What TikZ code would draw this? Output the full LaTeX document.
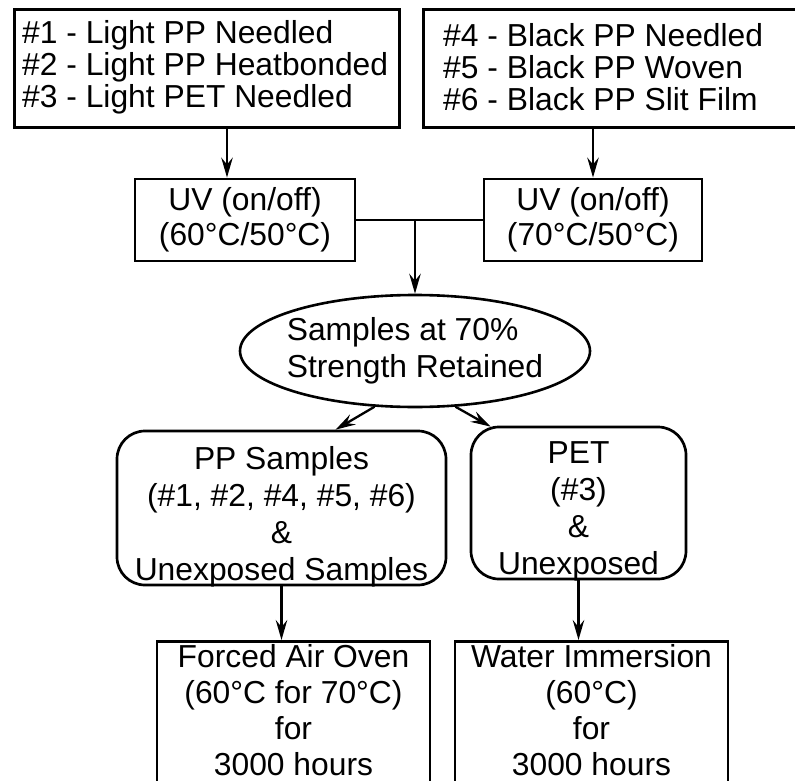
\documentclass[tikz,border=0pt]{standalone}
\usepackage{fontspec}
\setmainfont{Liberation Sans}
\usetikzlibrary{arrows.meta,shapes.geometric,calc}
\begin{document}
\begin{tikzpicture}[x=1pt,y=-1pt,
  box/.style={draw,line width=2.9pt,inner sep=0pt},
  rbox/.style={draw,line width=2.7pt,inner sep=0pt,rounded corners=28pt},
  txt/.style={inner sep=0pt,align=center},
  ltxt/.style={inner sep=0pt,align=left},
  conn/.style={line width=2.3pt},
  arr/.style={line width=2.3pt,-{Stealth[length=20pt,width=11.5pt,inset=7pt]}},
  fA/.style={font=\fontsize{31.8}{32}\selectfont},
  fB/.style={font=\fontsize{31.8}{35}\selectfont},
  fC/.style={font=\fontsize{31.8}{37}\selectfont},
  fD/.style={font=\fontsize{31.8}{36}\selectfont}
]
\useasboundingbox (0,0) rectangle (795,781);
\clip (0,0) rectangle (795,781);
\fill[white] (0,0) rectangle (795,781);

% top boxes
\node[box,anchor=north west,minimum width=385pt,minimum height=118pt] (tl) at (13,8) {};
\node[ltxt,fA,anchor=west] (tlt) at ($(tl.west)+(9,-1)$)
  {\#1 - Light PP Needled\\\#2 - Light PP Heatbonded\\\#3 - Light PET Needled};
\node[box,anchor=north west,minimum width=400pt,minimum height=118pt] (tr) at (422,8) {};
\node[ltxt,fA,anchor=west] (trt) at ($(tr.west)+(21,-1)$)
  {\#4 - Black PP Needled\\\#5 - Black PP Woven\\\#6 - Black PP Slit Film};

% UV boxes
\node[box,fB,align=center,minimum width=220pt,minimum height=82pt] (uvl) at (245,220)
  {UV (on/off)\\(60°C/50°C)};
\node[box,fB,align=center,minimum width=218pt,minimum height=82pt] (uvr) at (593,220)
  {UV (on/off)\\(70°C/50°C)};

% ellipse
\node[draw,ellipse,line width=2.6pt,fC,align=left,inner ysep=0pt,inner xsep=-6pt,
      minimum width=350pt,minimum height=112pt] (ell) at (415,351)
  {Samples at 70\%\\Strength Retained};

% rounded boxes
\node[rbox,minimum width=329pt,minimum height=154pt] (pp) at (281.5,508) {};
\node[txt,fC,anchor=south] (ppt) at ($(pp.south)+(0,1)$)
  {PP Samples\\(\#1, \#2, \#4, \#5, \#6)\\\&\\Unexposed Samples};
\node[rbox,minimum width=215pt,minimum height=152pt] (pet) at (578.5,503) {};
\node[txt,fC,anchor=south] (pett) at ($(pet.south)+(0,1)$)
  {PET\\(\#3)\\\&\\Unexposed};

% bottom boxes
\node[box,anchor=north,minimum width=273pt,minimum height=170pt] (forced) at (293.5,640) {};
\node[txt,fD,anchor=north] (forcedt) at ($(forced.north)+(0,4)$)
  {Forced Air Oven\\(60°C for 70°C)\\for\\3000 hours};
\node[box,anchor=north,minimum width=273pt,minimum height=170pt] (water) at (591.5,640) {};
\node[txt,fD,anchor=north] (watert) at ($(water.north)+(0,4)$)
  {Water Immersion\\(60°C)\\for\\3000 hours};

% connectors
\coordinate (a1) at (227,0);
\draw[arr] (tl.south -| a1) -- (uvl.north -| a1);
\draw[arr] (uvr.north |- tr.south) -- (uvr.north);
\draw[conn] (uvl.east) -- (uvr.west);
\draw[arr] (uvl.east -| ell.north) -- (ell.north);
\draw[arr] (ell.234) -- ($(pp.north west)!0.663!(pp.north east)$);
\draw[arr] (ell.306) -- ($(pet.north west)+(21,1)$);
\draw[arr] (pp.south) -- (pp.south |- forced.north);
\draw[arr] (pet.south) -- (pet.south |- water.north);
\end{tikzpicture}
\end{document}
